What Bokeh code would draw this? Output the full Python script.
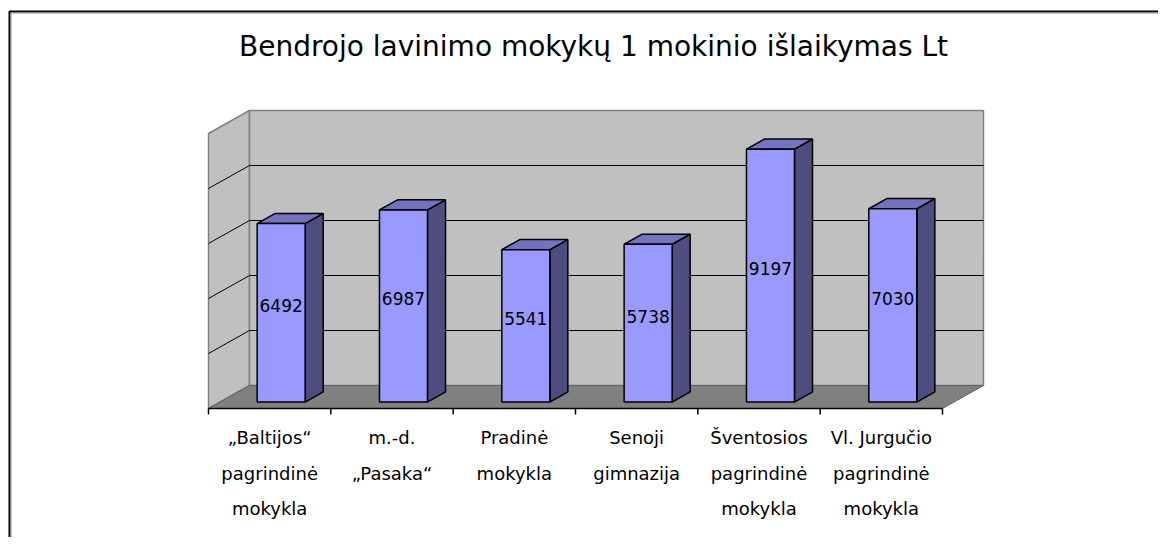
from bokeh.plotting import figure
from bokeh.models import Range1d, Label
from bokeh.embed import file_html
from bokeh.resources import INLINE
from bokeh.core.properties import value

# ---------------- data ----------------
title_text = "Bendrojo lavinimo mokykų 1 mokinio išlaikymas Lt"
categories = [
    "„Baltijos“\npagrindinė\nmokykla",
    "m.-d.\n„Pasaka“",
    "Pradinė\nmokykla",
    "Senoji\ngimnazija",
    "Šventosios\npagrindinė\nmokykla",
    "Vl. Jurgučio\npagrindinė\nmokykla",
]
values = [6492, 6987, 5541, 5738, 9197, 7030]
y_ticks = [0, 2000, 4000, 6000, 8000, 10000]

# ---------------- layout ----------------
W, H = 1158, 537
PX_PER_CAT = 122.33        # pixels per category along the front floor edge
PX_PER_VAL = 0.0275        # pixels per value unit
X0_PX, Y0_PX = 208, 408    # canvas position of the front-left floor corner


def dx(px):
    return px / PX_PER_CAT


def dy(px):
    return px / PX_PER_VAL


n = len(categories)
ymax = y_ticks[-1]
DEPTH_X, DEPTH_Y = dx(41), dy(23)         # floor / wall depth
FRONT_FRAC, BAR_FRAC = 0.28, 0.44         # bar placement within the depth
OX, OY = DEPTH_X * FRONT_FRAC, DEPTH_Y * FRONT_FRAC
BDX, BDY = DEPTH_X * BAR_FRAC, DEPTH_Y * BAR_FRAC
BAR_W = dx(48)

x_lo, x_hi = -X0_PX / PX_PER_CAT, (W - X0_PX) / PX_PER_CAT
y_lo, y_hi = -(H - Y0_PX) / PX_PER_VAL, Y0_PX / PX_PER_VAL

p = figure(
    width=W, height=H,
    x_range=Range1d(x_lo, x_hi), y_range=Range1d(y_lo, y_hi),
    output_backend="svg", toolbar_location=None,
    x_axis_type=None, y_axis_type=None,
    min_border=0, outline_line_color=None,
    background_fill_color="white", border_fill_color="white",
)
p.grid.visible = False

# walls and floor
p.patch([0, DEPTH_X, DEPTH_X, 0], [0, DEPTH_Y, DEPTH_Y + ymax, ymax],
        fill_color="#C0C0C0", line_color="#808080", line_width=1.5)
p.patch([DEPTH_X, n + DEPTH_X, n + DEPTH_X, DEPTH_X],
        [DEPTH_Y, DEPTH_Y, DEPTH_Y + ymax, DEPTH_Y + ymax],
        fill_color="#C0C0C0", line_color="#808080", line_width=1.5)

grid = y_ticks[1:-1]
p.segment(x0=[DEPTH_X] * len(grid), y0=[DEPTH_Y + t for t in grid],
          x1=[n + DEPTH_X] * len(grid), y1=[DEPTH_Y + t for t in grid],
          line_color="black", line_width=1)
p.segment(x0=[0] * len(grid), y0=grid,
          x1=[DEPTH_X] * len(grid), y1=[DEPTH_Y + t for t in grid],
          line_color="black", line_width=1)

p.patch([0, n, n + DEPTH_X, DEPTH_X], [0, 0, DEPTH_Y, DEPTH_Y],
        fill_color="#808080", line_color="#606060", line_width=1)

# category axis
p.line([0, n], [0, 0], line_color="black", line_width=1.5)
p.segment(x0=list(range(n + 1)), y0=[0] * (n + 1),
          x1=list(range(n + 1)), y1=[-dy(6)] * (n + 1),
          line_color="black", line_width=1.5)

# 3D bars
centers = [i + 0.5 + OX for i in range(n)]
front_xs, front_ys, side_xs, side_ys, top_xs, top_ys = [], [], [], [], [], []
for c, v in zip(centers, values):
    l, r = c - BAR_W / 2, c + BAR_W / 2
    b, t = OY, OY + v
    front_xs.append([l, r, r, l]); front_ys.append([b, b, t, t])
    side_xs.append([r, r + BDX, r + BDX, r]); side_ys.append([b, b + BDY, t + BDY, t])
    top_xs.append([l, r, r + BDX, l + BDX]); top_ys.append([t, t, t + BDY, t + BDY])

p.patches(side_xs, side_ys, fill_color="#4D4D80", line_color="black", line_width=1.5)
p.patches(top_xs, top_ys, fill_color="#7373BF", line_color="black", line_width=1.5)
p.patches(front_xs, front_ys, fill_color="#9999FF", line_color="black", line_width=1.5)

# value labels
p.text(x=centers, y=[OY + v / 2 + dy(7) for v in values], text=[str(v) for v in values],
       text_align="center", text_baseline="middle",
       text_font=value("DejaVu Sans"), text_font_size="17px", text_color="black")

# category labels (one text call per line)
max_lines = max(len(c.split("\n")) for c in categories)
for j in range(max_lines):
    xs, txt = [], []
    for i, c in enumerate(categories):
        parts = c.split("\n")
        if j < len(parts):
            xs.append(i + 0.5)
            txt.append(parts[j])
    p.text(x=xs, y=[-dy(29 + 35.5 * j)] * len(xs), text=txt,
           text_align="center", text_baseline="middle",
           text_font=value("DejaVu Sans"), text_font_size="18px", text_color="black")

# title
p.add_layout(Label(x=dx(593 - X0_PX), y=dy(Y0_PX - 46), text=title_text,
                   text_align="center", text_baseline="middle",
                   text_font="DejaVu Sans", text_font_size="28px", text_color="black"))

# chart-area border (only the left and top edges fall inside the picture)
bx, by = dx(9 - X0_PX), dy(Y0_PX - 11)
p.line([bx, bx, x_hi], [y_lo, by, by], line_color="black", line_width=2)
gx, gy = dx(10.7 - X0_PX), dy(Y0_PX - 12.7)
p.line([gx, gx, x_hi], [y_lo, gy, gy], line_color="#A8A8A8", line_width=1)

open("out.html", "w").write(file_html(p, INLINE))
